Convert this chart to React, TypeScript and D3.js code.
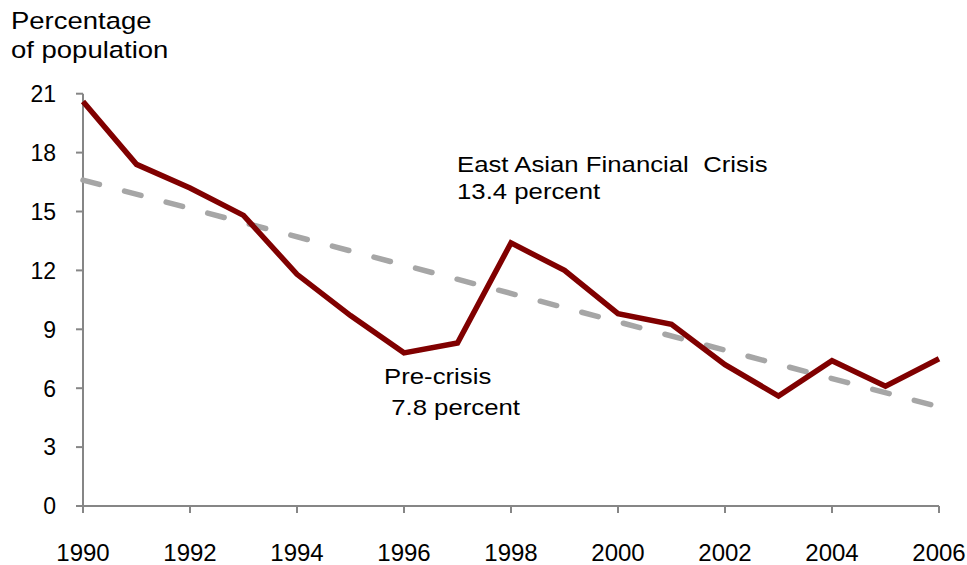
import React from "react";
import * as d3 from "d3";

const years = [1990, 1991, 1992, 1993, 1994, 1995, 1996, 1997, 1998, 1999, 2000, 2001, 2002, 2003, 2004, 2005, 2006];
const poverty = [20.6, 17.4, 16.2, 14.8, 11.8, 9.7, 7.8, 8.3, 13.4, 12.0, 9.8, 9.25, 7.2, 5.6, 7.4, 6.1, 7.5];
const trendYears = [1990, 2006];
const trendValues = [16.6, 5.05];
const yTicks = [0, 3, 6, 9, 12, 15, 18, 21];
const xTicks = [1990, 1992, 1994, 1996, 1998, 2000, 2002, 2004, 2006];
const titleLines = ["Percentage", "of population"];
const crisisLabel = ["East Asian Financial  Crisis", "13.4 percent"];
const preLabel = ["Pre-crisis", " 7.8 percent"];

const W = 967;
const H = 565;
const font = "'Liberation Sans', Arial, sans-serif";

function WideText(props: { x: number; y: number; size: number; sx: number; children: React.ReactNode }) {
  return (
    <text
      transform={`translate(${props.x},${props.y}) scale(${props.sx},1)`}
      fontSize={props.size}
      fill="#000"
      style={{ whiteSpace: "pre" }}
    >
      {props.children}
    </text>
  );
}

export default function App() {
  const x = d3.scaleLinear().domain([1990, 2006]).range([83, 939]);
  const y = d3.scaleLinear().domain([0, 21]).range([506, 93.7]);
  const line = d3
    .line<[number, number]>()
    .x((d) => x(d[0]))
    .y((d) => y(d[1]));
  const mainData = years.map((yr, i) => [yr, poverty[i]] as [number, number]);
  const trendData = trendYears.map((yr, i) => [yr, trendValues[i]] as [number, number]);
  const axisColor = "#868686";

  return (
    <svg
      width={W}
      height={H}
      style={{ position: "absolute", left: 0, top: 0, background: "#fff" }}
      fontFamily={font}
    >
      <WideText x={11} y={29} size={23.5} sx={1.17}>
        {titleLines[0]}
      </WideText>
      <WideText x={11} y={57.5} size={23.5} sx={1.17}>
        {titleLines[1]}
      </WideText>

      {/* y axis */}
      <line x1={x(1990)} x2={x(1990)} y1={y(21)} y2={y(0)} stroke={axisColor} strokeWidth={2} />
      {yTicks.map((t) => (
        <g key={t}>
          <line x1={x(1990) - 7} x2={x(1990)} y1={y(t)} y2={y(t)} stroke={axisColor} strokeWidth={2} />
          <text x={56} y={y(t) + 8.3} textAnchor="end" fontSize={23} fill="#000">
            {t}
          </text>
        </g>
      ))}

      {/* x axis */}
      <line x1={x(1990)} x2={x(2006)} y1={y(0)} y2={y(0)} stroke={axisColor} strokeWidth={2} />
      {xTicks.map((t) => (
        <g key={t}>
          <line x1={x(t)} x2={x(t)} y1={y(0)} y2={y(0) + 7} stroke={axisColor} strokeWidth={2} />
          <text x={x(t)} y={560.5} textAnchor="middle" fontSize={24} fill="#000">
            {t}
          </text>
        </g>
      ))}

      {/* trend */}
      <path
        d={line(trendData) || ""}
        fill="none"
        stroke="#a6a6a6"
        strokeWidth={5.5}
        strokeDasharray="17,26"
        strokeLinecap="round"
      />
      {/* main */}
      <path d={line(mainData) || ""} fill="none" stroke="#800000" strokeWidth={5.5} strokeLinejoin="miter" />

      <WideText x={457} y={171.5} size={23} sx={1.12}>
        {crisisLabel[0]}
      </WideText>
      <WideText x={457} y={199} size={23} sx={1.12}>
        {crisisLabel[1]}
      </WideText>
      <WideText x={384} y={384} size={23} sx={1.12}>
        {preLabel[0]}
      </WideText>
      <WideText x={384} y={414.5} size={23} sx={1.12}>
        {preLabel[1]}
      </WideText>
    </svg>
  );
}
